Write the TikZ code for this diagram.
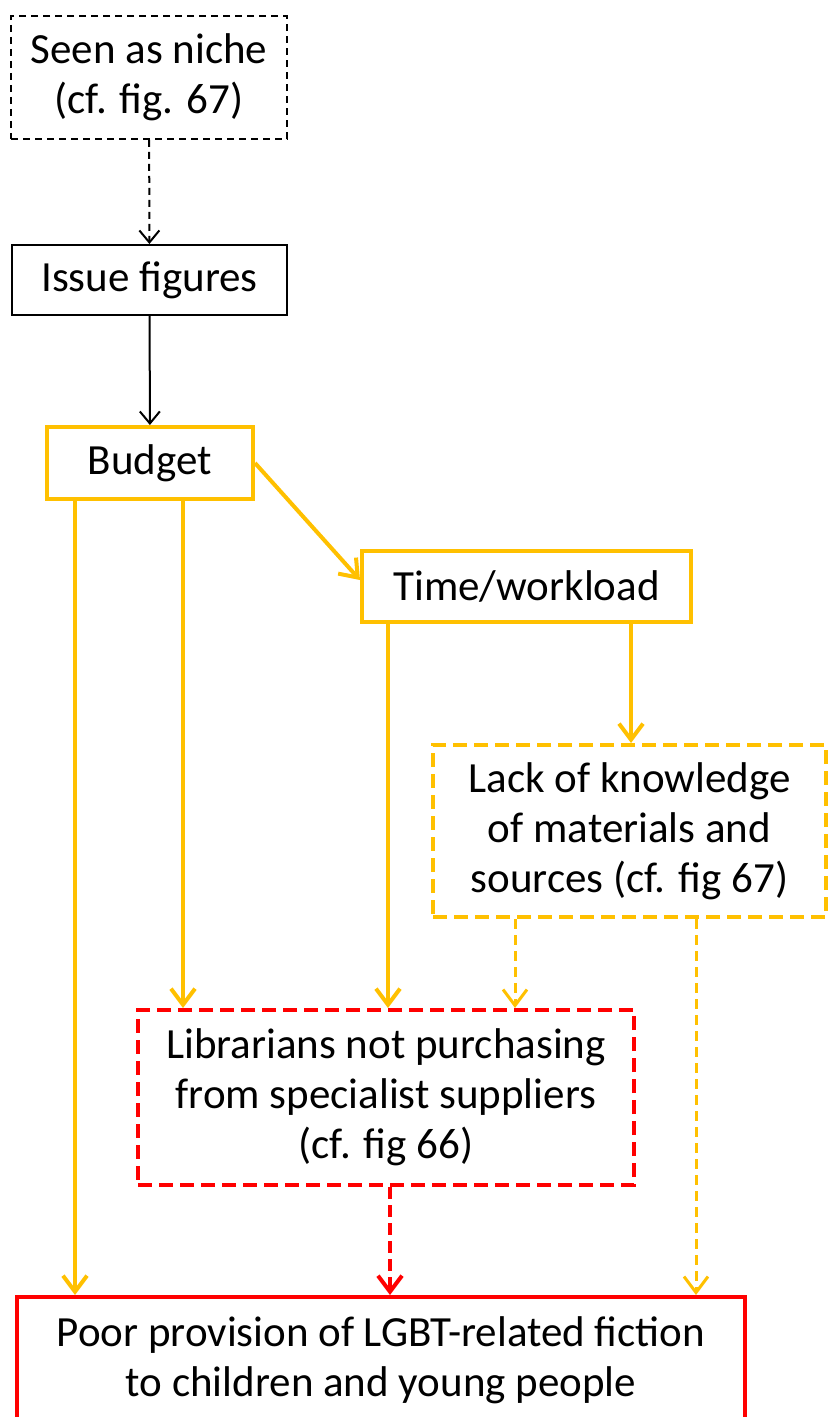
\documentclass[tikz,border=0pt]{standalone}
\usepackage{fontspec}
\setmainfont{Carlito}
\usepackage{tikz}
\usetikzlibrary{arrows.meta, positioning}
\definecolor{gold}{HTML}{FFC000}
\definecolor{alarm}{HTML}{FF0000}
\tikzstyle{blackbox} = [rectangle, 
draw=black, 
line width=1pt, 
text centered]
\tikzstyle{blackdash} = [blackbox, 
dash pattern=on 3.5pt off 2.5pt]
\tikzstyle{goldbox} = [rectangle, 
draw=gold, 
line width=2pt, 
text centered]
\tikzstyle{golddash} = [goldbox, 
dash pattern=on 7pt off 3.5pt]
\tikzstyle{redbox} = [rectangle, 
draw=alarm, 
line width=2pt, 
text centered]
\tikzstyle{reddash} = [redbox, 
dash pattern=on 7pt off 3.5pt]
\tikzstyle{blackarrow} = [line width=1pt, -{Straight Barb[length=6pt,width=10pt]}, draw=black]
\tikzstyle{goldarrow} = [line width=2pt, -{Straight Barb[length=8pt,width=12pt]}, draw=gold]
\tikzstyle{goldthin} = [line width=1.5pt, dash pattern=on 5pt off 3pt, -{Straight Barb[length=8pt,width=12pt]}, draw=gold]
\tikzstyle{redarrow} = [line width=2pt, dash pattern=on 6pt off 3pt, -{Straight Barb[length=8pt,width=12pt]}, draw=alarm]

\begin{document}
\begin{tikzpicture}[x=0.5pt, y=-0.5pt, every node/.style={font=\fontsize{21.5}{25}\selectfont}, align=center]

        \clip (0,0) rectangle (830,1417);

        % Nodes
        \node (niche) [blackdash, minimum width=138pt, minimum height=61.5pt] at (149,77.5) {Seen as niche\\(cf. fig. 67)};
        \node (issue) [blackbox, minimum width=137.5pt, minimum height=35pt] at (149.5,280) {Issue figures};
        \node (budget) [goldbox, minimum width=103pt, minimum height=36pt] at (150,463) {Budget};
        \node (timework) [goldbox, minimum width=164.5pt, minimum height=35.5pt] at (526.5,586) {Time/workload};
        \node (lack) [golddash, minimum width=196.5pt, minimum height=86pt] at (629.5,831) {Lack of knowledge\\of materials and\\sources (cf. fig 67)};
        \node (libr) [reddash, minimum width=248pt, minimum height=87.5pt] at (386,1097.5) {Librarians not purchasing\\from specialist suppliers\\(cf. fig 66)};
        \node (poor) [redbox, minimum width=364pt, minimum height=63pt] at (381,1360) {Poor provision of LGBT-related fiction\\to children and young people};

        % Connections
        \draw [blackarrow, dash pattern=on 3.5pt off 2.5pt] (niche) -- (issue);
        \draw [blackarrow] (issue) -- (budget);
        \draw [goldarrow] ([xshift=15pt]budget.south west) -- ([xshift=15pt]budget.south west |- poor.north);
        \draw [goldarrow] ([xshift=69pt]budget.south west) -- ([xshift=69pt]budget.south west |- libr.north);
        \draw [goldarrow] (budget.east) -- ([yshift=3pt]timework.west);
        \draw [goldarrow] ([xshift=14pt]timework.south west) -- ([xshift=14pt]timework.south west |- libr.north);
        \draw [goldarrow] ([xshift=135.5pt]timework.south west) -- ([xshift=135.5pt]timework.south west |- lack.north);
        \draw [goldthin] ([xshift=42pt]lack.south west) -- ([xshift=42pt]lack.south west |- libr.north);
        \draw [goldthin] ([xshift=132.5pt]lack.south west) -- ([xshift=132.5pt]lack.south west |- poor.north);
        \draw [redarrow] ([xshift=2pt]libr.south) -- ([xshift=2pt]libr.south |- poor.north);

    \end{tikzpicture}
\end{document}
